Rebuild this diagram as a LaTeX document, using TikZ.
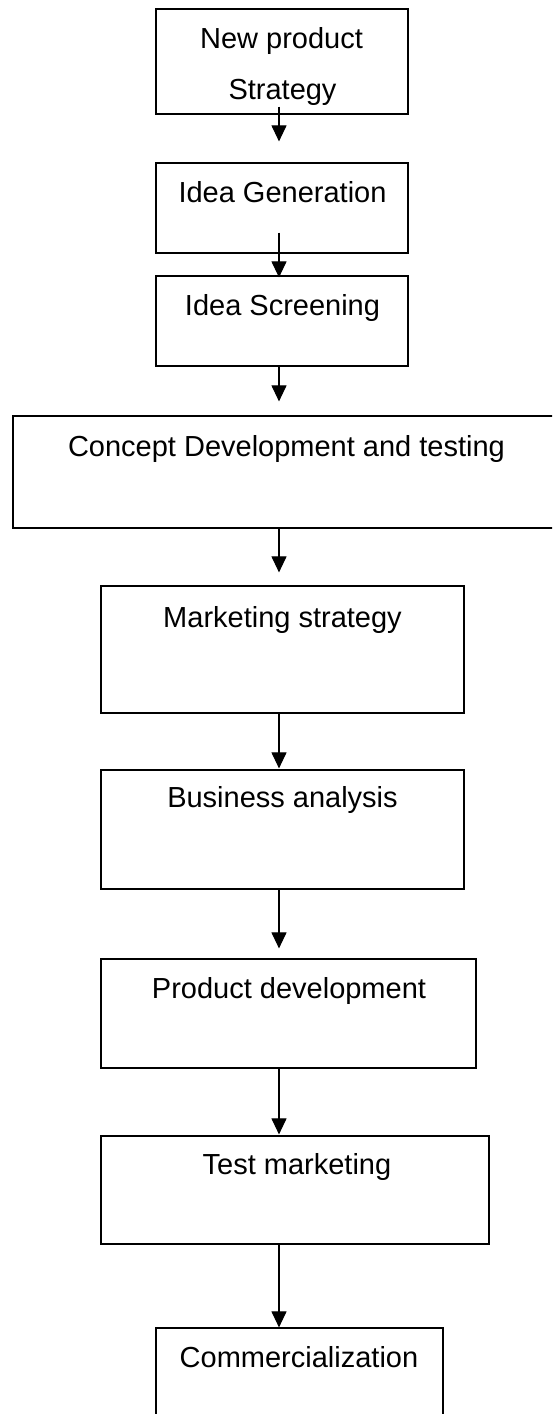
\documentclass[tikz,border=0pt]{standalone}
\usepackage{fontspec}
\setmainfont{Liberation Sans}
\usetikzlibrary{arrows.meta}
\begin{document}
\begin{tikzpicture}[x=1pt,y=-1pt,
  box/.style={draw=black,line width=1.2pt,fill=none,inner sep=0pt},
  lbl/.style={inner sep=0pt,anchor=base,font=\fontsize{29}{34}\selectfont},
  conn/.style={line width=1.1pt,-{Triangle[width=15pt,length=16pt]}}]
\useasboundingbox (0,0) rectangle (552,1414);
\clip (0,0) rectangle (552,1414);
\fill[white] (0,0) rectangle (552,1414);
% boxes
\node[box,minimum width=252pt,minimum height=105pt] (b1) at (282,61.5) {};
\node[box,minimum width=252pt,minimum height=90pt] (b2) at (282,208) {};
\node[box,minimum width=252pt,minimum height=90pt] (b3) at (282,321) {};
\node[box,minimum width=549pt,minimum height=112pt] (b4) at (287.5,472) {};
\node[box,minimum width=363pt,minimum height=127pt] (b5) at (282.5,649.5) {};
\node[box,minimum width=363pt,minimum height=119pt] (b6) at (282.5,829.5) {};
\node[box,minimum width=375pt,minimum height=109pt] (b7) at (288.5,1013.5) {};
\node[box,minimum width=388pt,minimum height=108pt] (b8) at (295,1190) {};
\node[box,minimum width=287pt,minimum height=110pt] (b9) at (299.5,1383) {};
% texts
\node[lbl] (t1a) at (281.5,48) {New product};
\node[lbl] (t1b) at (282.5,99) {Strategy};
\node[lbl] (t2) at (282.5,202) {Idea Generation};
\node[lbl] (t3) at (282.5,315) {Idea Screening};
\node[lbl] (t4) at (286.5,456) {Concept Development and testing};
\node[lbl] (t5) at (282.5,627) {Marketing strategy};
\node[lbl] (t6) at (282.5,807) {Business analysis};
\node[lbl] (t7) at (289,998) {Product development};
\node[lbl] (t8) at (297,1174) {Test marketing};
\node[lbl] (t9) at (299,1367) {Commercialization};
% connectors
\draw[conn] ([shift={(-3pt,8pt)}]b1.south) -- ([shift={(-3pt,21pt)}]b2.north);
\draw[conn] ([shift={(-3pt,21pt)}]b2.south) -- ([shift={(-3pt,-2pt)}]b3.north);
\draw[conn] ([shift={(-3pt,0pt)}]b3.south) -- ([shift={(-8.5pt,14pt)}]b4.north);
\draw[conn] ([shift={(-8.5pt,0pt)}]b4.south) -- ([shift={(-3.5pt,13pt)}]b5.north);
\draw[conn] ([shift={(-3.5pt,0pt)}]b5.south) -- ([shift={(-3.5pt,1pt)}]b6.north);
\draw[conn] ([shift={(-3.5pt,0pt)}]b6.south) -- ([shift={(-9.5pt,10pt)}]b7.north);
\draw[conn] ([shift={(-9.5pt,0pt)}]b7.south) -- ([shift={(-16pt,1pt)}]b8.north);
\draw[conn] ([shift={(-16pt,0pt)}]b8.south) -- ([shift={(-20.5pt,0pt)}]b9.north);
\end{tikzpicture}
\end{document}
